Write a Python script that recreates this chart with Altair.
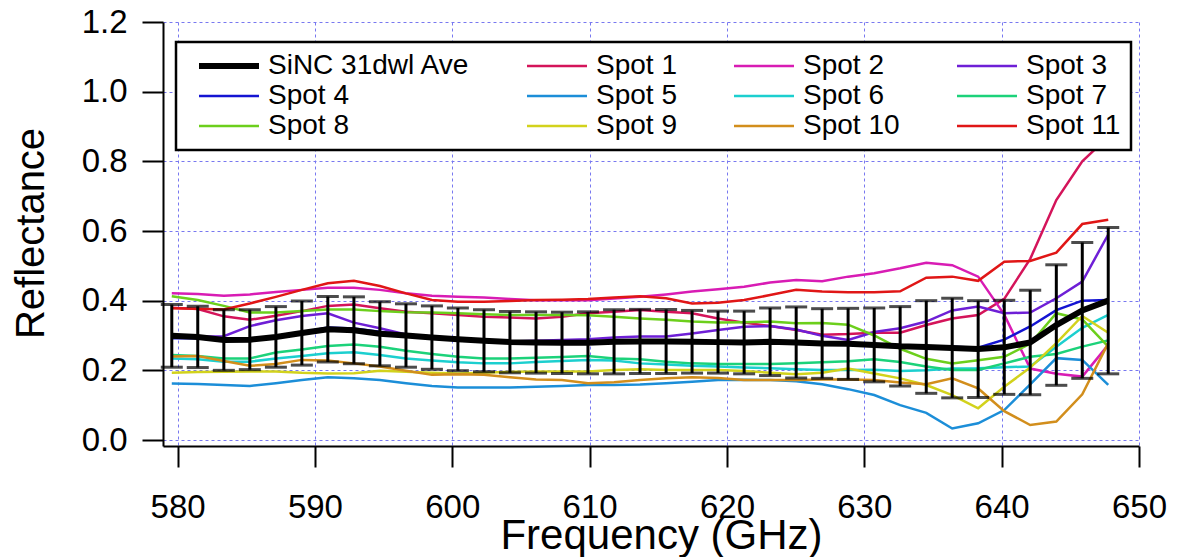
import altair as alt
import pandas as pd

# Frequency grid (GHz)
freq_ghz = [579.58, 581.47, 583.37, 585.26, 587.16, 589.05, 590.94, 592.84, 594.73,
            596.63, 598.52, 600.41, 602.31, 604.20, 606.10, 607.99, 609.88, 611.78,
            613.67, 615.57, 617.46, 619.35, 621.25, 623.14, 625.04, 626.93, 628.82,
            630.72, 632.61, 634.51, 636.40, 638.29, 640.19, 642.08, 643.98, 645.87,
            647.76]

# Mean reflectance and its spread (half-width of the error bar)
ave = [0.299, 0.296, 0.287, 0.288, 0.296, 0.307, 0.318, 0.315, 0.305, 0.300, 0.294,
       0.289, 0.285, 0.281, 0.280, 0.279, 0.279, 0.282, 0.283, 0.283, 0.282, 0.281,
       0.280, 0.282, 0.280, 0.277, 0.276, 0.273, 0.269, 0.267, 0.264, 0.261, 0.266,
       0.280, 0.330, 0.372, 0.400]
err = [0.090, 0.088, 0.087, 0.086, 0.087, 0.092, 0.094, 0.096, 0.092, 0.091, 0.091,
       0.090, 0.089, 0.088, 0.088, 0.088, 0.089, 0.092, 0.092, 0.092, 0.090, 0.089,
       0.090, 0.097, 0.102, 0.100, 0.102, 0.106, 0.114, 0.133, 0.143, 0.139, 0.135,
       0.150, 0.173, 0.195, 0.210]

# Individual measurement spots
spot1 = [0.380, 0.376, 0.355, 0.345, 0.357, 0.370, 0.385, 0.389, 0.378, 0.368, 0.364,
         0.359, 0.354, 0.352, 0.349, 0.354, 0.364, 0.368, 0.373, 0.368, 0.364, 0.349,
         0.337, 0.327, 0.316, 0.302, 0.304, 0.308, 0.308, 0.330, 0.349, 0.359, 0.405,
         0.520, 0.689, 0.800, 0.870]
spot2 = [0.421, 0.419, 0.414, 0.418, 0.425, 0.431, 0.437, 0.437, 0.431, 0.421, 0.414,
         0.411, 0.409, 0.405, 0.401, 0.401, 0.401, 0.406, 0.411, 0.418, 0.426, 0.433,
         0.440, 0.452, 0.459, 0.456, 0.469, 0.479, 0.493, 0.509, 0.502, 0.469, 0.360,
         0.205, 0.190, 0.182, 0.273]
spot3 = [0.297, 0.297, 0.298, 0.327, 0.344, 0.356, 0.364, 0.337, 0.321, 0.303, 0.297,
         0.292, 0.287, 0.283, 0.285, 0.287, 0.289, 0.294, 0.297, 0.297, 0.306, 0.316,
         0.325, 0.327, 0.317, 0.299, 0.287, 0.310, 0.321, 0.340, 0.372, 0.383, 0.364,
         0.366, 0.407, 0.455, 0.590]
spot4 = [0.292, 0.292, 0.286, 0.289, 0.298, 0.309, 0.323, 0.320, 0.311, 0.301, 0.297,
         0.290, 0.285, 0.282, 0.280, 0.280, 0.280, 0.281, 0.282, 0.282, 0.281, 0.281,
         0.280, 0.282, 0.280, 0.277, 0.276, 0.272, 0.268, 0.268, 0.268, 0.265, 0.288,
         0.326, 0.373, 0.400, 0.402]
spot5 = [0.162, 0.161, 0.158, 0.155, 0.163, 0.172, 0.180, 0.177, 0.172, 0.163, 0.155,
         0.151, 0.151, 0.151, 0.153, 0.155, 0.158, 0.158, 0.159, 0.163, 0.167, 0.172,
         0.173, 0.172, 0.169, 0.160, 0.146, 0.129, 0.100, 0.078, 0.033, 0.048, 0.086,
         0.160, 0.235, 0.230, 0.158]
spot6 = [0.234, 0.232, 0.225, 0.225, 0.234, 0.241, 0.249, 0.252, 0.244, 0.234, 0.228,
         0.223, 0.220, 0.220, 0.224, 0.227, 0.230, 0.228, 0.220, 0.217, 0.213, 0.211,
         0.208, 0.206, 0.203, 0.201, 0.201, 0.202, 0.198, 0.200, 0.205, 0.206, 0.209,
         0.211, 0.268, 0.322, 0.359]
spot7 = [0.244, 0.241, 0.234, 0.234, 0.251, 0.260, 0.270, 0.274, 0.268, 0.256, 0.247,
         0.239, 0.234, 0.234, 0.236, 0.238, 0.241, 0.234, 0.232, 0.225, 0.220, 0.218,
         0.218, 0.218, 0.220, 0.223, 0.226, 0.232, 0.224, 0.211, 0.201, 0.201, 0.220,
         0.239, 0.247, 0.268, 0.286]
spot8 = [0.413, 0.402, 0.385, 0.366, 0.366, 0.370, 0.375, 0.375, 0.370, 0.367, 0.366,
         0.364, 0.361, 0.359, 0.359, 0.359, 0.358, 0.354, 0.349, 0.345, 0.340, 0.337,
         0.338, 0.340, 0.335, 0.336, 0.331, 0.300, 0.262, 0.233, 0.220, 0.229, 0.239,
         0.276, 0.364, 0.346, 0.268]
spot9 = [0.193, 0.195, 0.196, 0.197, 0.197, 0.193, 0.191, 0.192, 0.199, 0.196, 0.193,
         0.191, 0.193, 0.196, 0.197, 0.197, 0.197, 0.201, 0.203, 0.201, 0.201, 0.201,
         0.198, 0.193, 0.189, 0.193, 0.205, 0.191, 0.177, 0.158, 0.129, 0.091, 0.153,
         0.208, 0.278, 0.356, 0.308]
spot10 = [0.240, 0.241, 0.227, 0.213, 0.218, 0.230, 0.228, 0.220, 0.211, 0.199, 0.187,
          0.189, 0.187, 0.180, 0.174, 0.172, 0.163, 0.166, 0.172, 0.177, 0.180, 0.178,
          0.172, 0.172, 0.172, 0.174, 0.174, 0.172, 0.165, 0.160, 0.177, 0.148, 0.083,
          0.043, 0.053, 0.131, 0.278]
spot11 = [0.378, 0.377, 0.375, 0.392, 0.411, 0.431, 0.450, 0.457, 0.442, 0.421, 0.402,
          0.397, 0.397, 0.399, 0.402, 0.403, 0.405, 0.409, 0.413, 0.407, 0.392, 0.394,
          0.402, 0.416, 0.431, 0.426, 0.424, 0.424, 0.427, 0.466, 0.469, 0.457, 0.512,
          0.514, 0.538, 0.620, 0.632]

series_names = ["SiNC 31dwl Ave"] + [f"Spot {k}" for k in range(1, 12)]
series_colors = ["#000000", "#d4145a", "#d81cb4", "#6e1fd6", "#1414d2", "#1c8ed8",
                 "#1ccfcf", "#1cd27a", "#6ccf1c", "#d2d21c", "#d28e1c", "#e01616"]
series_widths = [6, 2.5, 2.5, 2.5, 2.5, 2.5, 2.5, 2.5, 2.5, 2.5, 2.5, 2.5]

x_ticks = [580, 590, 600, 610, 620, 630, 640, 650]
y_ticks = [0.0, 0.2, 0.4, 0.6, 0.8, 1.0, 1.2]

spots = [spot1, spot2, spot3, spot4, spot5, spot6, spot7, spot8, spot9, spot10, spot11]
rows = []
for name, vals in zip(series_names[1:], spots):
    for f, v in zip(freq_ghz, vals):
        rows.append({"freq": f, "series": name, "refl": v})
spot_df = pd.DataFrame(rows)

ave_df = pd.DataFrame({
    "freq": freq_ghz,
    "series": series_names[0],
    "refl": ave,
    "lo": [a - e for a, e in zip(ave, err)],
    "hi": [a + e for a, e in zip(ave, err)],
})

x_scale = alt.Scale(domain=[578.94, 650], nice=False, zero=False)
y_scale = alt.Scale(domain=[-0.0172, 1.2], nice=False, zero=False)

x_axis = alt.Axis(values=x_ticks, title="Frequency (GHz)", grid=True,
                  labelPadding=24, titleFontSize=42, titleX=498, titleY=102,
                  titleBaseline="alphabetic", titleAlign="center")
y_axis = alt.Axis(values=y_ticks, format=".1f", title="Reflectance", grid=True,
                  labelPadding=15, titleFontSize=40, titleX=-120, titleY=211,
                  titleBaseline="alphabetic", titleAngle=270, titleAlign="center")

legend = alt.Legend(title=None, orient="none", direction="horizontal",
                    legendX=13, legendY=20, columns=4,
                    columnPadding=44, rowPadding=2, padding=10, clipHeight=28,
                    symbolType="stroke", symbolSize=3600, symbolOffset=10,
                    labelOffset=6, labelFontSize=28, labelLimit=400,
                    strokeColor="black", fillColor="white")

color = alt.Color("series:N", scale=alt.Scale(domain=series_names, range=series_colors),
                  legend=legend)
width = alt.StrokeWidth("series:N",
                        scale=alt.Scale(type="ordinal", domain=series_names,
                                        range=series_widths),
                        legend=legend)

X = alt.X("freq:Q", scale=x_scale, axis=x_axis)

spot_lines = alt.Chart(spot_df).mark_line().encode(
    x=X, y=alt.Y("refl:Q", scale=y_scale, axis=y_axis), color=color, strokeWidth=width,
    detail="series:N")

ave_line = alt.Chart(ave_df).mark_line().encode(
    x=X, y=alt.Y("refl:Q", scale=y_scale, axis=y_axis), color=color, strokeWidth=width)

bars = alt.Chart(ave_df).mark_rule(color="black", strokeWidth=3).encode(
    x=X, y=alt.Y("lo:Q", scale=y_scale, axis=y_axis), y2="hi:Q")

caps_lo = alt.Chart(ave_df).mark_tick(color="black", orient="horizontal", size=22,
                                      thickness=3).encode(
    x=X, y=alt.Y("lo:Q", scale=y_scale, axis=y_axis))
caps_hi = alt.Chart(ave_df).mark_tick(color="black", orient="horizontal", size=22,
                                      thickness=3).encode(
    x=X, y=alt.Y("hi:Q", scale=y_scale, axis=y_axis))

chart = alt.layer(spot_lines, ave_line, bars, caps_lo, caps_hi).properties(
    width=976, height=424,
    padding={"left": 163, "top": 22, "right": 42, "bottom": 111},
    autosize=alt.AutoSizeParams(type="none"),
    background="white",
).configure_view(stroke=None).configure_axis(
    domainColor="black", domainWidth=2, tickColor="black", tickWidth=2, tickSize=21,
    labelFont="Liberation Sans", labelFontSize=33, labelColor="black",
    labelFlush=False, labelOverlap=False, labelBound=False,
    titleFont="Liberation Sans", titleFontWeight="normal", titleColor="black",
    gridColor="#7878f0", gridDash=[3, 3], gridWidth=1,
).configure_legend(
    labelFont="Liberation Sans", labelColor="black", strokeWidth=2.5,
)

chart.save("out.html", embed_options={"renderer": "svg", "actions": False})
